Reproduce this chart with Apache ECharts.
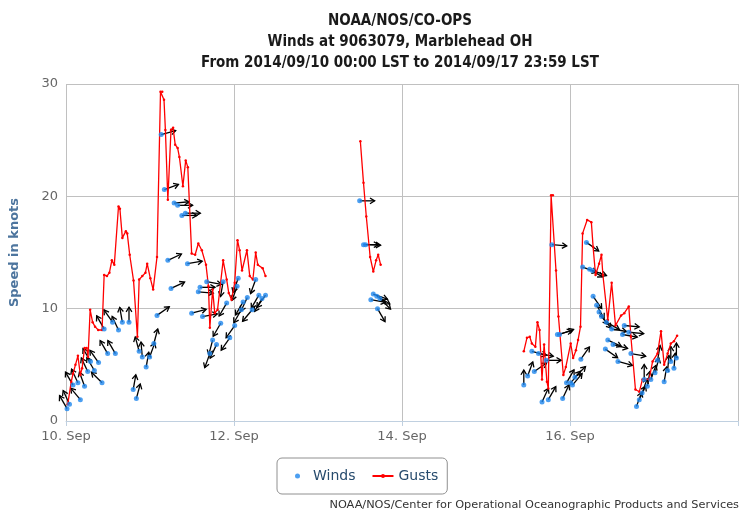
<!DOCTYPE html>
<html>
<head>
<meta charset="utf-8">
<script src="https://cdn.jsdelivr.net/npm/echarts@6/dist/echarts.min.js"></script>
<style>
html, body { margin: 0; padding: 0; background: #fff; }
#chart { width: 741px; height: 515px; }
</style>
</head>
<body>
<div id="chart"></div>
<script>
// x values are hours after 2014/09/10 00:00 LST
var xTickLabels = ['10. Sep', '12. Sep', '14. Sep', '16. Sep']

// gusts, [hour, knots], one array per stretch of data
var gustsA = [
    [0.5, 1.5], [1.5, 3.5], [2, 4.2], [2.7, 5.0], [3.4, 5.8], [4.1, 4.1], [4.6, 4.7], [5.3, 6.5],
    [5.9, 6.5], [6.3, 5.7], [6.9, 9.9], [7.6, 8.8], [8.3, 8.4], [9.2, 8.1], [10.3, 8.1], [10.9, 13],
    [11.7, 12.9], [12.4, 13.2], [13.1, 14.3], [13.8, 13.9], [15, 19.1], [15.4, 18.9], [16.1, 16.3],
    [17.1, 16.9], [17.5, 16.7], [18.2, 14.8], [19.3, 12.5], [20.4, 7.5], [20.9, 12.6], [21.8, 12.9],
    [22.7, 13.2], [23.2, 14.0], [24.1, 12.7], [24.9, 11.7], [26, 14.6], [27, 29.3], [27.5, 29.3],
    [28, 28.6], [28.4, 25.9], [29.1, 19.7], [30, 25.9], [30.6, 26.1], [31.2, 24.6], [31.9, 24.3],
    [32.4, 23.5], [33.4, 20.9], [34.2, 23.2], [34.8, 22.6], [35.9, 14.9], [36.9, 14.8], [37.8, 15.8],
    [38.8, 15.2], [40, 13.9], [40.7, 12], [41.1, 8.3], [41.9, 11.7], [42.5, 9.6], [43.3, 9.9],
    [44.9, 14.3], [45.9, 12.6], [46.5, 11.4], [47.3, 10.8], [48.2, 12.3], [49, 16.1], [49.6, 15.2],
    [50.3, 13.4], [51.7, 15.2], [52.5, 12.9], [53.4, 12.6], [54.2, 15], [54.8, 13.9], [56.2, 13.6],
    [57, 12.9]
]
var gustsB = [
    [84.1, 24.9], [85, 21.2], [85.8, 18.2], [86.9, 14.6], [87.8, 13.3], [88.6, 14.3], [89.2, 14.8], [89.9, 13.9]
]
var gustsC = [
    [130.8, 6.2], [131.7, 7.4], [132.5, 7.5], [133.1, 6.9], [134.1, 6.6], [134.7, 8.8], [135.3, 8.1],
    [136, 3.7], [136.6, 6.8], [137.4, 3.5], [137.8, 2.9], [138.6, 20.1], [139.1, 20.1], [140, 13.4],
    [140.7, 9.3], [142.1, 4.1], [142.8, 4.8], [144.2, 6.9], [144.9, 5.6], [145.7, 6.3], [146.3, 7.2],
    [147, 8.4], [147.6, 16.7], [148.9, 17.9], [150.1, 17.7], [150.6, 15.5], [151.3, 13], [152.3, 14],
    [153, 14.8], [153.4, 13], [154.8, 9], [155.9, 12.3], [157, 8.5], [158.6, 9.4], [159.5, 9.6],
    [160.8, 10.2], [161.4, 7.5], [162.7, 2.8], [163.8, 2.6], [164.7, 3.7], [166.6, 3.7], [167.6, 5.3],
    [169, 6], [170, 8], [170.9, 5], [171.9, 6], [172.8, 6.9], [173.7, 7.1], [174.6, 7.6]
]

// winds, [hour, knots, arrow direction in degrees clockwise from up]
var windsA = [
    [0.3, 1.1, 330], [1.0, 1.5, 335], [2.0, 3.2, 330], [3.4, 3.4, 335], [4.1, 1.9, 320], [5.3, 3.1, 340],
    [6.2, 4.4, 335], [7.0, 5.3, 330], [8.1, 4.5, 330], [9.3, 5.2, 325], [10.3, 3.4, 315], [10.9, 8.2, 330],
    [11.9, 6.0, 330], [13.3, 8.8, 325], [14.1, 6.0, 330], [15.0, 8.1, 335], [16.1, 8.8, 350], [18.0, 8.8, 0],
    [19.2, 2.8, 10], [20.1, 2.0, 15], [20.9, 6.2, 345], [21.8, 5.7, 355], [22.9, 4.8, 10], [23.9, 5.7, 20],
    [25.1, 6.9, 15], [26.0, 9.4, 55], [27.2, 25.5, 75], [28.1, 20.6, 70], [29.1, 14.3, 65], [30.0, 11.8, 65],
    [30.9, 19.4, 85], [31.9, 19.2, 90], [33.1, 18.3, 90], [34.1, 18.5, 90], [34.7, 14.0, 80], [35.9, 9.6, 75],
    [37.8, 11.5, 95], [38.3, 11.9, 90], [39.0, 9.3, 80], [40.2, 12.4, 100], [41.1, 6.0, 200], [41.9, 7.2, 195],
    [43.0, 6.8, 205], [44.2, 8.7, 210], [44.9, 12.4, 190], [45.9, 10.5, 210], [46.8, 7.4, 215], [48.2, 8.5, 215],
    [48.9, 12.0, 200], [49.2, 12.7, 200], [50.1, 9.9, 210], [50.6, 10.6, 210], [51.8, 11.0, 205], [53.2, 9.9, 220],
    [54.2, 12.6, 200], [55.1, 11.2, 210], [56.0, 10.9, 210], [57.0, 11.2, 215]
]
var windsB = [
    [83.9, 19.6, 90], [85.0, 15.7, 90], [85.6, 15.7, 92], [87.1, 10.8, 100], [87.8, 11.3, 110],
    [88.8, 11.1, 120], [89.0, 10.0, 150], [89.7, 10.9, 135]
]
var windsC = [
    [130.8, 3.2, 0], [131.9, 4.0, 20], [133.1, 6.2, 105], [133.8, 4.4, 55], [135.0, 6.0, 100], [136.0, 1.7, 25],
    [137.2, 5.4, 90], [137.8, 1.9, 30], [138.8, 15.7, 95], [140.4, 7.7, 75], [141.0, 7.7, 70], [141.9, 2.0, 25],
    [143.0, 3.4, 30], [144.2, 3.4, 40], [144.7, 3.2, 40], [145.4, 3.9, 45], [147.1, 5.5, 35], [147.6, 13.7, 110],
    [148.7, 15.9, 125], [149.6, 13.5, 120], [150.4, 13.4, 110], [150.6, 11.1, 145], [151.6, 10.3, 150],
    [152.3, 9.7, 145], [153.0, 9.3, 140], [154.1, 6.4, 125], [154.4, 8.8, 120], [154.8, 7.2, 115],
    [155.9, 8.2, 100], [156.3, 6.8, 105], [157.7, 5.3, 105], [159.0, 7.7, 100], [159.5, 8.5, 95],
    [160.8, 7.9, 95], [161.4, 6.0, 100], [163.0, 1.3, 20], [163.8, 1.9, 25], [164.6, 2.5, 20],
    [165.2, 3.7, 0], [166.1, 3.1, 10], [167.1, 3.7, 20], [168.3, 4.3, 15], [169.0, 5.4, 10],
    [170.9, 3.5, 10], [171.9, 4.5, 5], [172.8, 5.3, 0], [173.7, 4.7, 5], [174.4, 5.6, 0]
]

var myChart = echarts.init(document.getElementById('chart'))

var labelFont = "'DejaVu Sans', sans-serif"

// black arrow from each wind point, pointing where the wind goes
function renderArrow(params, api) {
    var p = api.coord([api.value(0), api.value(1)])
    var a = api.value(2) * Math.PI / 180
    var len = 15
    var tx = p[0] + Math.sin(a) * len
    var ty = p[1] - Math.cos(a) * len
    var hl = 5.5
    var b1 = a + Math.PI - 0.55
    var b2 = a + Math.PI + 0.55
    return {
        type: 'group',
        children: [
            {
                type: 'line',
                shape: { x1: p[0], y1: p[1], x2: tx, y2: ty },
                style: { stroke: '#000', lineWidth: 1.3 }
            },
            {
                type: 'polyline',
                shape: {
                    points: [
                        [tx + Math.sin(b1) * hl, ty - Math.cos(b1) * hl],
                        [tx, ty],
                        [tx + Math.sin(b2) * hl, ty - Math.cos(b2) * hl]
                    ]
                },
                style: { stroke: '#000', fill: null, lineWidth: 1.3 }
            }
        ]
    }
}

function arrowSeries(data) {
    return {
        name: 'arrows',
        type: 'custom',
        renderItem: renderArrow,
        encode: { x: 0, y: 1 },
        data: data,
        z: 2,
        silent: true
    }
}

function gustSeries(data) {
    return {
        name: 'Gusts',
        type: 'line',
        data: data,
        color: '#ff0000',
        lineStyle: { color: '#ff0000', width: 1.3 },
        symbol: 'circle',
        symbolSize: 2.5,
        showSymbol: true,
        z: 3,
        animation: false
    }
}

function windSeries(data) {
    return {
        name: 'Winds',
        type: 'scatter',
        data: data,
        color: '#1f87ee',
        symbolSize: 5,
        z: 4,
        animation: false
    }
}

var option = {
    animation: false,
    title: {
        text: 'NOAA/NOS/CO-OPS\nWinds at 9063079, Marblehead OH\nFrom 2014/09/10 00:00 LST to 2014/09/17 23:59 LST',
        left: 395,
        top: 6,
        textAlign: 'center',
        textStyle: {
            fontFamily: "'Liberation Sans Narrow', 'DejaVu Sans Condensed', sans-serif",
            fontSize: 15,
            fontWeight: 'bold',
            color: '#1a1a1a',
            lineHeight: 21
        }
    },
    legend: {
        data: [{ name: 'Winds', icon: 'circle' }, { name: 'Gusts' }],
        left: 277,
        top: 458,
        padding: [11, 9, 11, 18],
        borderColor: '#909090',
        borderWidth: 1,
        borderRadius: 5,
        itemWidth: 21,
        itemHeight: 5,
        itemGap: 16,
        textStyle: { color: '#274b6d', fontSize: 14, fontFamily: labelFont }
    },
    grid: { left: 63, top: 84, width: 680, height: 337 },
    xAxis: {
        type: 'value',
        min: 0,
        max: 192,
        interval: 48,
        axisLine: { lineStyle: { color: '#c0d0e0', width: 1 } },
        axisTick: { show: true, length: 5, lineStyle: { color: '#c0d0e0' } },
        axisLabel: {
            color: '#666',
            fontSize: 13,
            fontFamily: labelFont,
            margin: 9,
            formatter: function (v) { return xTickLabels[v / 48] || '' }
        },
        splitLine: { show: true, lineStyle: { color: '#c0c0c0', width: 1 } }
    },
    yAxis: {
        type: 'value',
        min: 0,
        max: 30,
        interval: 10,
        name: 'Speed in knots',
        nameLocation: 'middle',
        nameGap: 45,
        nameTextStyle: { color: '#4d759e', fontSize: 13, fontWeight: 'bold', fontFamily: labelFont },
        axisLine: { show: false },
        axisTick: { show: false },
        axisLabel: { color: '#666', fontSize: 13, fontFamily: labelFont, margin: 8 },
        splitLine: { lineStyle: { color: '#c0c0c0', width: 1 } }
    },
    graphic: [
        {
            type: 'text',
            right: 2,
            top: 500,
            style: {
                text: 'NOAA/NOS/Center for Operational Oceanographic Products and Services',
                fill: '#333',
                font: "11.3px 'DejaVu Sans', sans-serif"
            }
        }
    ],
    series: [
        arrowSeries(windsA), arrowSeries(windsB), arrowSeries(windsC),
        gustSeries(gustsA), gustSeries(gustsB), gustSeries(gustsC),
        windSeries(windsA), windSeries(windsB), windSeries(windsC)
    ]
}

myChart.setOption(option)
</script>
</body>
</html>
